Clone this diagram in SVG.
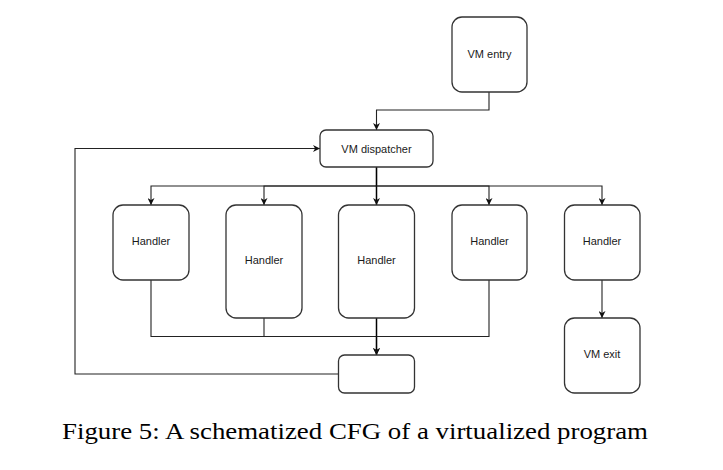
<svg xmlns="http://www.w3.org/2000/svg" width="723" height="470" viewBox="0 0 723 470">
<style>
.box{fill:#fff;stroke:#333;stroke-width:1.3}
.lbl{font-family:"Liberation Sans",Arial,sans-serif;font-size:11px;fill:#1a1a1a;text-anchor:middle;dominant-baseline:central}
.edge{fill:none;stroke:#222;stroke-width:1.1}
.cap{font-family:"Liberation Serif","Times New Roman",serif;font-size:24px;fill:#000}
</style>
<defs>
<marker id="arr" viewBox="0 0 10 10" refX="10" refY="5" markerWidth="7" markerHeight="7" markerUnits="userSpaceOnUse" orient="auto">
<path d="M0,0 L10,5 L0,10 L3,5 Z" fill="#111"/>
</marker>
</defs>
<rect width="723" height="470" fill="#fff"/>
<g id="connectors">
<path class="edge" d="M489,92 V110 H376.5 V130" marker-end="url(#arr)"/>
<path class="edge" d="M376.5,167 V186 H151 V205" marker-end="url(#arr)"/>
<path class="edge" d="M376.5,186 H264 V205" marker-end="url(#arr)"/>
<path class="edge" d="M376.5,167 V205" marker-end="url(#arr)" style="stroke:#000;stroke-width:1.5"/>
<path class="edge" d="M376.5,186 H489 V205" marker-end="url(#arr)"/>
<path class="edge" d="M376.5,186 H602 V205" marker-end="url(#arr)"/>
<path class="edge" d="M151,280 V336.5 H376.5 V355" marker-end="url(#arr)"/>
<path class="edge" d="M264,318 V336.5"/>
<path class="edge" d="M376.5,318 V355" marker-end="url(#arr)" style="stroke:#000;stroke-width:1.5"/>
<path class="edge" d="M489,280 V336.5 H376.5"/>
<path class="edge" d="M602,280 V318" marker-end="url(#arr)"/>
<path class="edge" d="M338,374 H75 V148.5 H320" marker-end="url(#arr)"/>
</g>
<g id="vm-entry"><rect class="box" x="452" y="17" width="75" height="75" rx="10"/><text class="lbl" x="489.5" y="54">VM entry</text></g>
<g id="vm-dispatcher"><rect class="box" x="320" y="130" width="113" height="37" rx="6"/><text class="lbl" x="376.5" y="148.5">VM dispatcher</text></g>
<g id="handler1"><rect class="box" x="113" y="205" width="76" height="75" rx="10"/><text class="lbl" x="151" y="241">Handler</text></g>
<g id="handler2"><rect class="box" x="226" y="205" width="76" height="113" rx="10"/><text class="lbl" x="264" y="260">Handler</text></g>
<g id="handler3"><rect class="box" x="338.5" y="205" width="76" height="113" rx="10"/><text class="lbl" x="376.5" y="260">Handler</text></g>
<g id="handler4"><rect class="box" x="452" y="205" width="75" height="75" rx="10"/><text class="lbl" x="489.5" y="241">Handler</text></g>
<g id="handler5"><rect class="box" x="564.5" y="205" width="75.5" height="75" rx="10"/><text class="lbl" x="602" y="241">Handler</text></g>
<g id="vm-exit"><rect class="box" x="564.5" y="318" width="75.5" height="75" rx="10"/><text class="lbl" x="602" y="354">VM exit</text></g>
<g id="merge-block"><rect class="box" x="338.5" y="355" width="76" height="38" rx="6"/></g>
<text class="cap" x="62" y="439" textLength="586" lengthAdjust="spacingAndGlyphs">Figure 5: A schematized CFG of a virtualized program</text>
</svg>
